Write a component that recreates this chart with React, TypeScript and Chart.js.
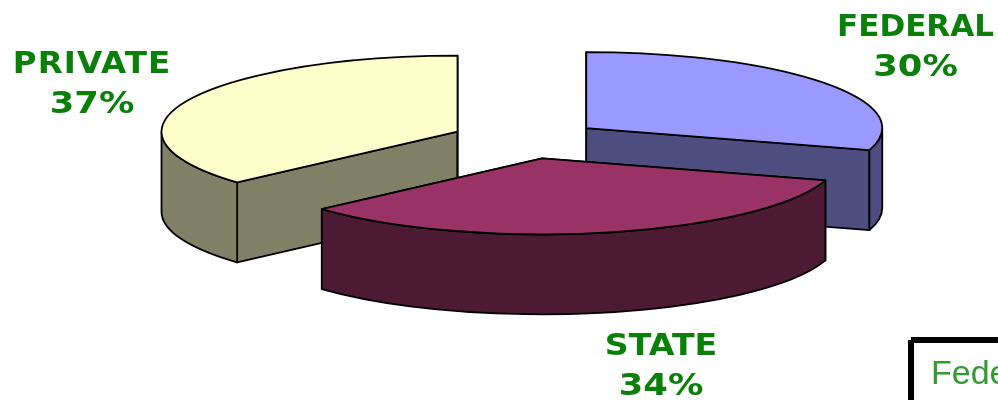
import React, { useEffect, useRef } from "react";
import { Chart, registerables } from "chart.js";

Chart.register(...registerables);

const categories = ["FEDERAL", "STATE", "PRIVATE"];
const shares = [30, 34, 37];
const topColors = ["#9999FF", "#993366", "#FFFFCC"];
const sideColors = ["#4D4D80", "#4D1A33", "#808066"];
const paintOrder = [0, 2, 1];

const GREEN = "#0A7F0A";
const labelFont = "bold 31px 'DejaVu Sans'";
const labelPlaces = [
  { cx: 915.5, y1: 36, y2: 76, nameStretch: 1, nameGap: 0 },
  { cx: 661, y1: 355, y2: 395, nameStretch: 1.07, nameGap: 0 },
  { cx: 92, y1: 73, y2: 113, nameStretch: 1.05, nameGap: 1 },
];
const percentStretch = 1.14;

const RX = 296;
const RY = 76;
const DEPTH = 80;

const pie3d = {
  id: "pie3d",
  beforeDatasetsDraw(chart: any) {
    const ctx: CanvasRenderingContext2D = chart.ctx;
    const arcs = chart.getDatasetMeta(0).data;
    const stroke = () => {
      ctx.lineWidth = 1.8;
      ctx.strokeStyle = "#000";
      ctx.lineJoin = "round";
      ctx.fill();
      ctx.stroke();
    };
    paintOrder.forEach((i) => {
      const arc = arcs[i];
      const mid = (arc.startAngle + arc.endAngle) / 2;
      const off = arc.options.offset;
      const cx = arc.x + Math.cos(mid) * off;
      const cy = arc.y + (Math.sin(mid) * off * RY) / RX;
      const px = (a: number) => cx + Math.cos(a) * RX;
      const py = (a: number) => cy + Math.sin(a) * RY;
      ctx.save();
      ctx.fillStyle = sideColors[i];
      [arc.startAngle, arc.endAngle].forEach((a: number) => {
        ctx.beginPath();
        ctx.moveTo(cx, cy);
        ctx.lineTo(px(a), py(a));
        ctx.lineTo(px(a), py(a) + DEPTH);
        ctx.lineTo(cx, cy + DEPTH);
        ctx.closePath();
        stroke();
      });
      [0, Math.PI * 2].forEach((base) => {
        const a = Math.max(arc.startAngle, base);
        const b = Math.min(arc.endAngle, base + Math.PI);
        if (b <= a) return;
        ctx.beginPath();
        ctx.ellipse(cx, cy, RX, RY, 0, a, b);
        ctx.ellipse(cx, cy + DEPTH, RX, RY, 0, b, a, true);
        ctx.closePath();
        stroke();
      });
      ctx.fillStyle = topColors[i];
      ctx.beginPath();
      ctx.moveTo(cx, cy);
      ctx.ellipse(cx, cy, RX, RY, 0, arc.startAngle, arc.endAngle);
      ctx.closePath();
      stroke();
      ctx.restore();
    });
    return false;
  },
  afterDraw(chart: any) {
    const ctx: CanvasRenderingContext2D = chart.ctx;
    ctx.save();
    ctx.fillStyle = GREEN;
    ctx.font = labelFont;
    ctx.textAlign = "center";
    const line = (text: string, x: number, y: number, sx: number, gap: number) => {
      ctx.save();
      ctx.translate(x, y);
      ctx.scale(sx, 1);
      (ctx as any).letterSpacing = gap + "px";
      ctx.fillText(text, 0, 0);
      ctx.restore();
    };
    categories.forEach((name, i) => {
      const p = labelPlaces[i];
      line(name, p.cx, p.y1, p.nameStretch, p.nameGap);
      line(shares[i] + "%", p.cx, p.y2, percentStretch, 0);
    });
    ctx.fillStyle = "#000";
    ctx.fillRect(911, 337, 87, 6);
    ctx.fillRect(908, 340, 6, 60);
    ctx.fillStyle = "#339933";
    ctx.font = "34px 'Liberation Sans'";
    ctx.textAlign = "left";
    ctx.fillText("Federal", 931, 384);
    ctx.restore();
  },
};

export default function App() {
  const ref = useRef<HTMLCanvasElement>(null);
  useEffect(() => {
    document.body.style.margin = "0";
    const chart = new Chart(ref.current as HTMLCanvasElement, {
      type: "pie",
      data: {
        labels: categories,
        datasets: [{ data: shares, backgroundColor: topColors, offset: 75, borderWidth: 0 }],
      },
      options: {
        animation: false,
        responsive: false,
        devicePixelRatio: 1,
        radius: 75,
        layout: { padding: { left: 54, right: 0, top: 0, bottom: 121 } },
        plugins: { legend: { display: false }, tooltip: { enabled: false } },
      },
      plugins: [pie3d],
    } as any);
    return () => chart.destroy();
  }, []);
  return <canvas ref={ref} width={998} height={400} style={{ display: "block" }} />;
}
